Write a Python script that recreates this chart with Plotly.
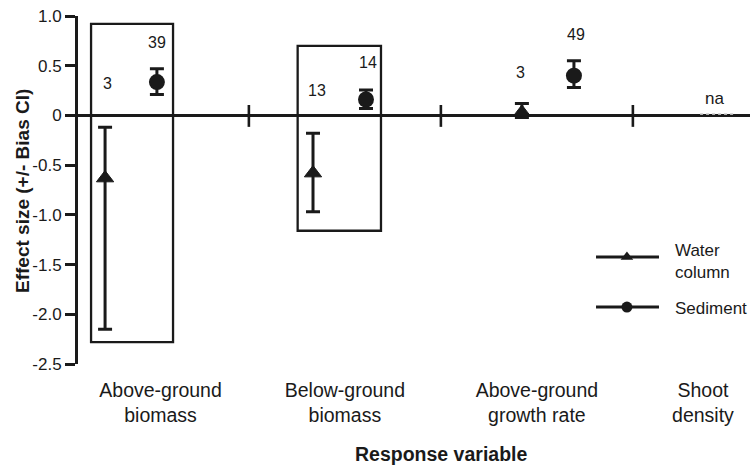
import plotly.graph_objects as go

# ---- data ----
categories = ["Above-ground<br>biomass", "Below-ground<br>biomass",
              "Above-ground<br>growth rate", "Shoot<br>density"]
water_effect = [-0.63, -0.58, 0.03]
water_upper = [-0.12, -0.18, 0.12]
water_lower = [-2.15, -0.97, -0.02]
water_n = ["3", "13", "3"]
sed_effect = [0.335, 0.16, 0.40]
sed_upper = [0.47, 0.255, 0.55]
sed_lower = [0.21, 0.07, 0.28]
sed_n = ["39", "14", "49"]
y_ticks = [1.0, 0.5, 0, -0.5, -1.0, -1.5, -2.0, -2.5]
y_ticktext = ["1.0", "0.5", "0", "-0.5", "-1.0", "-1.5", "-2.0", "-2.5"]

# ---- positions (layout) ----
cat_x = [1.04, 2.0, 3.0, 3.865]
water_x = [0.751, 1.834, 2.922]
sed_x = [1.021, 2.11, 3.193]
water_n_pos = [(0.766, 0.322), (1.855, 0.252), (2.917, 0.433)]
sed_n_pos = [(1.021, 0.729), (2.12, 0.533), (3.204, 0.815)]
separators = [1.5, 2.5, 3.5]
boxes = [(0.678, 1.105, -2.28, 0.92), (1.754, 2.188, -1.16, 0.70)]

FONT = "Arial, Liberation Sans, sans-serif"
INK = "#1a1a1a"

fig = go.Figure()

fig.add_trace(go.Scatter(
    x=water_x, y=water_effect, mode="markers",
    marker=dict(symbol="triangle-up", size=15, color=INK, line=dict(width=1, color=INK)),
    error_y=dict(type="data", symmetric=False,
                 array=[u - e for u, e in zip(water_upper, water_effect)],
                 arrayminus=[e - l for e, l in zip(water_effect, water_lower)],
                 color=INK, thickness=3, width=7),
    showlegend=False, cliponaxis=False))

fig.add_trace(go.Scatter(
    x=sed_x, y=sed_effect, mode="markers",
    marker=dict(symbol="circle", size=16, color=INK),
    error_y=dict(type="data", symmetric=False,
                 array=[u - e for u, e in zip(sed_upper, sed_effect)],
                 arrayminus=[e - l for e, l in zip(sed_effect, sed_lower)],
                 color=INK, thickness=3, width=7),
    showlegend=False, cliponaxis=False))

# legend samples
leg_x = [3.308, 3.469, 3.636]
fig.add_trace(go.Scatter(x=leg_x, y=[-1.424] * 3, mode="lines",
                         line=dict(color=INK, width=3), showlegend=False, cliponaxis=False))
fig.add_trace(go.Scatter(x=[leg_x[1]], y=[-1.424], mode="markers",
                         marker=dict(symbol="triangle-up", size=11, color=INK),
                         showlegend=False, cliponaxis=False))
fig.add_trace(go.Scatter(x=leg_x, y=[-1.927] * 3, mode="lines",
                         line=dict(color=INK, width=3), showlegend=False, cliponaxis=False))
fig.add_trace(go.Scatter(x=[leg_x[1]], y=[-1.927], mode="markers",
                         marker=dict(symbol="circle", size=11, color=INK),
                         showlegend=False, cliponaxis=False))

shapes = []
for x0, x1, y0, y1 in boxes:
    shapes.append(dict(type="rect", xref="x", yref="y", x0=x0, x1=x1, y0=y0, y1=y1,
                       line=dict(color=INK, width=2.3), layer="above"))
for s in separators:
    shapes.append(dict(type="line", xref="x", yref="y", x0=s, x1=s, y0=-0.115, y1=0.105,
                       line=dict(color=INK, width=2.6)))
shapes.append(dict(type="line", xref="x", yref="y", x0=3.85, x1=4.03, y0=0.012, y1=0.012,
                   line=dict(color="#b0b0b0", width=1.5, dash="dot")))

annotations = []
for (x, y), t in zip(water_n_pos + sed_n_pos, water_n + sed_n):
    annotations.append(dict(x=x, y=y, xref="x", yref="y", text=t, showarrow=False,
                            font=dict(family=FONT, size=16, color=INK)))
annotations.append(dict(x=3.925, y=0.171, xref="x", yref="y", text="na", showarrow=False,
                        font=dict(family=FONT, size=17, color=INK)))
annotations.append(dict(x=3.71, y=-1.474, xref="x", yref="y", text="Water<br>column",
                        showarrow=False, xanchor="left", align="left",
                        font=dict(family=FONT, size=17, color=INK)))
annotations.append(dict(x=3.71, y=-1.937, xref="x", yref="y", text="Sediment",
                        showarrow=False, xanchor="left",
                        font=dict(family=FONT, size=17, color=INK)))
annotations.append(dict(x=(23 - 78) / 672, y=-0.76, xref="paper", yref="y",
                        xanchor="center", yanchor="middle",
                        text="<b>Effect size (+/- Bias CI)</b>", textangle=-90,
                        showarrow=False, font=dict(family=FONT, size=19, color=INK)))
annotations.append(dict(x=(441 - 78) / 672, y=(364 - 454) / 348, xref="paper", yref="paper",
                        xanchor="center", yanchor="middle",
                        text="<b>Response variable</b>", showarrow=False,
                        font=dict(family=FONT, size=19.5, color=INK)))

fig.update_layout(
    width=750, height=466,
    margin=dict(l=78, r=0, t=16, b=102),
    plot_bgcolor="white", paper_bgcolor="white",
    shapes=shapes, annotations=annotations,
    xaxis=dict(range=[0.61, 4.11], showgrid=False, zeroline=False, showline=False,
               tickmode="array", tickvals=cat_x, ticktext=categories, ticks="",
               ticklabelstandoff=12,
               tickfont=dict(family=FONT, size=19.5, color=INK)),
    yaxis=dict(range=[-2.5, 1.0], showgrid=False, zeroline=True, zerolinecolor=INK,
               zerolinewidth=3, showline=True, linecolor=INK, linewidth=3,
               ticks="outside", ticklen=10, tickwidth=2.5, tickcolor=INK,
               tickmode="array", tickvals=y_ticks, ticktext=y_ticktext,
               tickfont=dict(family=FONT, size=17, color=INK)),
)

fig.write_html("out.html", config={"displayModeBar": False},
               post_script="document.body.style.margin='0';document.body.style.overflow='hidden';")
